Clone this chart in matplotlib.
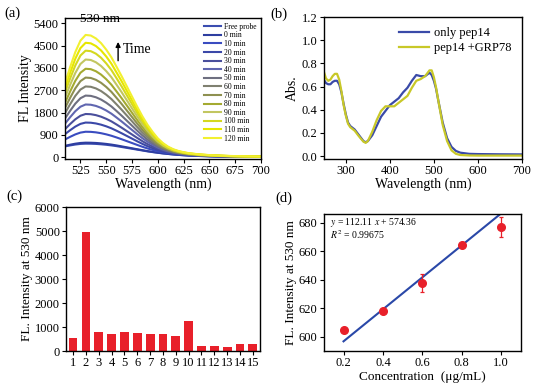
import numpy as np
import matplotlib
matplotlib.use("Agg")
import matplotlib.pyplot as plt

plt.rcParams['font.family'] = ['Liberation Serif', 'DejaVu Serif']
plt.rcParams['mathtext.fontset'] = 'stix'
plt.rcParams['xtick.direction'] = 'out'
plt.rcParams['ytick.direction'] = 'out'
plt.rcParams['axes.linewidth'] = 1.0

# ---- (a) fluorescence spectra over time ----
wl_a = [510, 515, 520, 525, 530, 535, 540, 545, 550, 555, 560, 565, 570, 575,
        580, 585, 590, 595, 600, 605, 610, 615, 620, 625, 630, 640, 650, 660,
        670, 680, 690, 700]
# free-probe spectrum (baseline)
base_a = [440, 480, 515, 540, 550, 548, 540, 525, 505, 480, 450, 415, 380, 345,
          310, 275, 240, 210, 182, 157, 135, 115, 98, 84, 72, 54, 42, 34,
          28, 24, 21, 19]
# normalised shape of the growing emission band
grow_a = [0.58, 0.72, 0.85, 0.95, 1.00, 0.995, 0.97, 0.93, 0.875, 0.81, 0.73,
          0.65, 0.565, 0.48, 0.395, 0.315, 0.245, 0.185, 0.133, 0.095, 0.067,
          0.048, 0.036, 0.028, 0.022, 0.015, 0.011, 0.008, 0.006, 0.005,
          0.004, 0.003]
labels_a = ['Free probe', '0 min', '10 min', '20 min', '30 min', '40 min',
            '50 min', '60 min', '70 min', '80 min', '90 min', '100 min',
            '110 min', '120 min']
peaks_a = [550, 590, 1030, 1400, 1745, 2128, 2487, 2855, 3212, 3568, 3940,
           4297, 4614, 4930]
colors_a = ['#3b4db0', '#2e3ea0', '#3a4cc0', '#3b48a8', '#4a4f9c', '#6066b0',
            '#6e6f80', '#7f8070', '#8e9050', '#a4aa30', '#c2c660', '#d4d820',
            '#e6e600', '#f2f030']

# ---- (b) absorbance ----
wl_b = [250, 255, 260, 265, 270, 275, 280, 285, 290, 295, 300, 305, 310, 320,
        330, 340, 345, 350, 360, 370, 380, 390, 400, 410, 420, 430, 440, 450,
        460, 470, 480, 490, 495, 500, 505, 510, 520, 530, 540, 550, 560, 580,
        600, 650, 700]
abs_pep = [0.66, 0.63, 0.62, 0.62, 0.64, 0.65, 0.65, 0.62, 0.55, 0.45, 0.36,
           0.29, 0.26, 0.23, 0.18, 0.13, 0.12, 0.13, 0.18, 0.26, 0.34, 0.39,
           0.44, 0.47, 0.50, 0.55, 0.59, 0.65, 0.70, 0.69, 0.69, 0.72, 0.70,
           0.65, 0.58, 0.48, 0.29, 0.155, 0.08, 0.045, 0.03, 0.02, 0.018,
           0.016, 0.015]
abs_grp = [0.73, 0.67, 0.65, 0.66, 0.69, 0.71, 0.71, 0.66, 0.56, 0.44, 0.35,
           0.28, 0.25, 0.22, 0.17, 0.125, 0.115, 0.13, 0.21, 0.31, 0.39, 0.43,
           0.43, 0.43, 0.46, 0.49, 0.52, 0.59, 0.65, 0.665, 0.69, 0.74, 0.74,
           0.68, 0.59, 0.48, 0.27, 0.13, 0.05, 0.02, 0.01, 0.006, 0.005,
           0.005, 0.005]

# ---- (c) selectivity bars ----
samples_c = list(range(1, 16))
values_c = [530, 4980, 810, 700, 790, 750, 720, 710, 620, 1240, 190, 200,
            160, 280, 280]

# ---- (d) calibration ----
conc_d = [0.2, 0.4, 0.6, 0.8, 1.0]
fl_d = [604.5, 618, 637.5, 664, 677]
err_d = [0, 0, 6.5, 0, 7]
slope_d, icpt_d = 112.11, 574.36

fig = plt.figure(figsize=(5.37, 3.87), dpi=100)
ax_a = fig.add_axes([0.121, 0.589, 0.365, 0.365])
ax_b = fig.add_axes([0.603, 0.589, 0.369, 0.367])
ax_c = fig.add_axes([0.123, 0.093, 0.361, 0.372])
ax_d = fig.add_axes([0.603, 0.093, 0.367, 0.354])

for ax in (ax_a, ax_b, ax_c, ax_d):
    ax.tick_params(labelsize=9, length=3, width=0.8, pad=1.5)

# (a)
base = np.array(base_a)
grow = np.array(grow_a)
for lab, pk, col in zip(labels_a, peaks_a, colors_a):
    ax_a.plot(wl_a, base + (pk - base_a[4]) * grow, color=col, lw=1.5, label=lab)
ax_a.set_xlim(510, 700)
ax_a.set_ylim(-70, 5620)
ax_a.set_xticks(range(525, 701, 25))
ax_a.set_yticks(range(0, 5401, 900))
ax_a.set_xlabel('Wavelength (nm)', fontsize=10, labelpad=0)
ax_a.set_ylabel('FL Intensity', fontsize=10, labelpad=1)
ax_a.text(544, 5560, '530 nm', fontsize=9.5, ha='center', va='center')
ax_a.annotate('', xy=(561.5, 4760), xytext=(561.5, 3780),
              arrowprops=dict(arrowstyle='-|>', color='black', lw=1.0,
                              mutation_scale=7))
ax_a.text(566, 4330, 'Time', fontsize=10, ha='left', va='center')
ax_a.legend(loc='upper right', bbox_to_anchor=(1.0, 1.0), fontsize=5.5,
            frameon=False, handlelength=2.2, handletextpad=0.3,
            labelspacing=0.08, borderaxespad=0.25)

# (b)
ax_b.plot(wl_b, abs_pep, color='#3a4aa8', lw=1.6, label='only pep14')
ax_b.plot(wl_b, abs_grp, color='#c8c828', lw=1.6, label='pep14 +GRP78')
ax_b.set_xlim(250, 700)
ax_b.set_ylim(-0.025, 1.2)
ax_b.set_xticks(range(300, 701, 100))
ax_b.set_yticks(np.arange(0, 1.21, 0.2))
ax_b.yaxis.set_major_formatter(matplotlib.ticker.FormatStrFormatter('%.1f'))
ax_b.set_xlabel('Wavelength (nm)', fontsize=10, labelpad=0)
ax_b.set_ylabel('Abs.', fontsize=10, labelpad=2)
ax_b.legend(loc='upper right', fontsize=9, frameon=False, handlelength=2.4,
            handletextpad=0.4, labelspacing=0.25, borderaxespad=0.4)

# (c)
ax_c.bar(samples_c, values_c, width=0.68, color='#e8202a')
ax_c.set_xlim(0.45, 15.55)
ax_c.set_ylim(0, 6000)
ax_c.set_xticks(samples_c)
ax_c.set_yticks(range(0, 6001, 1000))
ax_c.set_ylabel('FL. Intensity at 530 nm', fontsize=9.5, labelpad=1)

# (d)
xl = np.array([conc_d[0], conc_d[-1]])
ax_d.plot(xl, slope_d * xl + icpt_d, color='#2a48a8', lw=1.5, zorder=2)
ax_d.errorbar(conc_d, fl_d, yerr=err_d, fmt='o', color='#e8202a', ms=5.5,
              elinewidth=0.9, capsize=1.5, capthick=0.9, zorder=3)
ax_d.set_xlim(0.1, 1.1)
ax_d.set_ylim(590, 686)
ax_d.set_xticks(conc_d)
ax_d.set_yticks(range(600, 681, 20))
ax_d.xaxis.set_major_formatter(matplotlib.ticker.FormatStrFormatter('%.1f'))
ax_d.set_xlabel('Concentration  (\u03bcg/mL)', fontsize=9.5, labelpad=1)
ax_d.set_ylabel('FL. Intensity at 530 nm', fontsize=9.5, labelpad=1)
ax_d.text(0.03, 0.94, '$y$ = 112.11 $x$ + 574.36', transform=ax_d.transAxes,
          fontsize=7, va='center')
ax_d.text(0.03, 0.85, '$R^2$ = 0.99675', transform=ax_d.transAxes,
          fontsize=7, va='center')

# panel letters
fig.text(0.008, 0.965, '(a)', fontsize=10.5, va='center')
fig.text(0.503, 0.962, '(b)', fontsize=10.5, va='center')
fig.text(0.012, 0.493, '(c)', fontsize=10.5, va='center')
fig.text(0.512, 0.488, '(d)', fontsize=10.5, va='center')

fig.savefig('out.png', dpi=100)
